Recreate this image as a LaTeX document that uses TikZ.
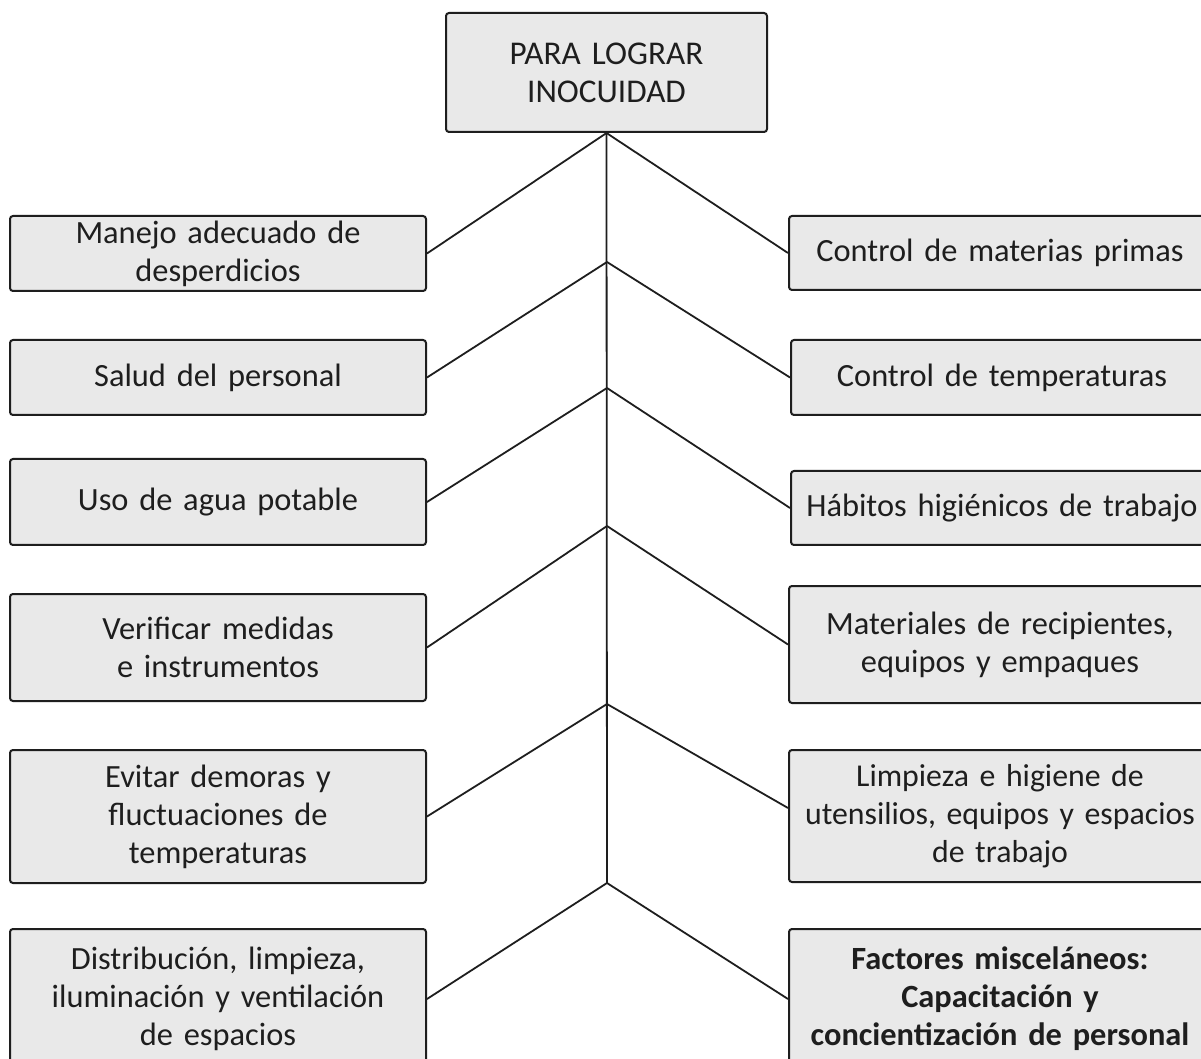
\documentclass[tikz,border=0pt]{standalone}
\usepackage{fontspec}
\setmainfont{Carlito}
\definecolor{boxfill}{HTML}{E9E9E9}
\definecolor{ink}{HTML}{1E1E1E}
\begin{document}
\begin{tikzpicture}[x=0.5pt,y=-0.5pt,
  box/.style={draw=ink, line width=1pt, fill=boxfill, rounded corners=1.5pt,
    align=center, text=ink, inner sep=0pt,
    font=\fontsize{16.2}{19}\selectfont},
  lbox/.style={box, minimum width=208pt, text width=200pt},
  rbox/.style={box, minimum width=211pt, text width=205pt},
  link/.style={draw=ink, line width=0.9pt}]
\path[use as bounding box, clip] (0,0) rectangle (1201,1059);
\fill[white] (0,0) rectangle (1201,1059);

\node[box, minimum width=160.5pt, minimum height=59.5pt, text width=150pt, font=\fontsize{16.6}{19}\selectfont] (top) at (606.5,72.5) {PARA LOGRAR\\INOCUIDAD};

\node[lbox, minimum height=37.5pt] (L1) at (218,253.5) {Manejo adecuado de\\desperdicios};
\node[lbox, minimum height=37.5pt] (L2) at (218,377.5) {Salud del personal};
\node[lbox, minimum height=43pt] (L3) at (218,502) {Uso de agua potable};
\node[lbox, minimum height=53.5pt] (L4) at (218,647.5) {Verificar medidas\\e instrumentos};
\node[lbox, minimum height=66.5pt] (L5) at (218,816.5) {Evitar demoras y\\fluctuaciones de\\temperaturas};
\node[lbox, minimum height=70pt] (L6) at (218,999) {Distribución, limpieza,\\iluminación y ventilación\\de espacios};

\node[rbox, minimum height=37pt] (R1) at (1000,253) {Control de materias primas};
\node[rbox, minimum height=37.5pt] (R2) at (1002,377.5) {Control de temperaturas};
\node[rbox, minimum height=37pt] (R3) at (1002,508) {Hábitos higiénicos de trabajo};
\node[rbox, minimum height=58.5pt] (R4) at (1000,644.5) {Materiales de recipientes,\\equipos y empaques};
\node[rbox, minimum height=66pt, font=\fontsize{15.9}{19}\selectfont] (R5) at (1000,816) {Limpieza e higiene de\\utensilios, equipos y espacios\\de trabajo};
\node[rbox, minimum height=70pt, font=\fontsize{16.2}{19}\selectfont\bfseries] (R6) at (1000,999) {Factores misceláneos:\\Capacitación y\\concientización de personal};

\coordinate (T1) at (607,262);
\coordinate (T2) at (607,388);
\coordinate (T3) at (607,526);
\coordinate (T4) at (607,704);
\coordinate (T5) at (607,883);

\draw[link] (top.south) -- (T5);
\draw[link] (top.south) -- (L1.east);
\draw[link] (top.south) -- (R1.west);
\draw[link] (T1) -- (L2.east);
\draw[link] (T1) -- (R2.west);
\draw[link] (T2) -- (L3.east);
\draw[link] (T2) -- (R3.west);
\draw[link] (T3) -- (L4.east);
\draw[link] (T3) -- (R4.west);
\draw[link] (T4) -- (L5.east);
\draw[link] ([yshift=4pt]R5.west) -- (T4);
\draw[link] (T5) -- (L6.east);
\draw[link] (T5) -- (R6.west);
\end{tikzpicture}
\end{document}
